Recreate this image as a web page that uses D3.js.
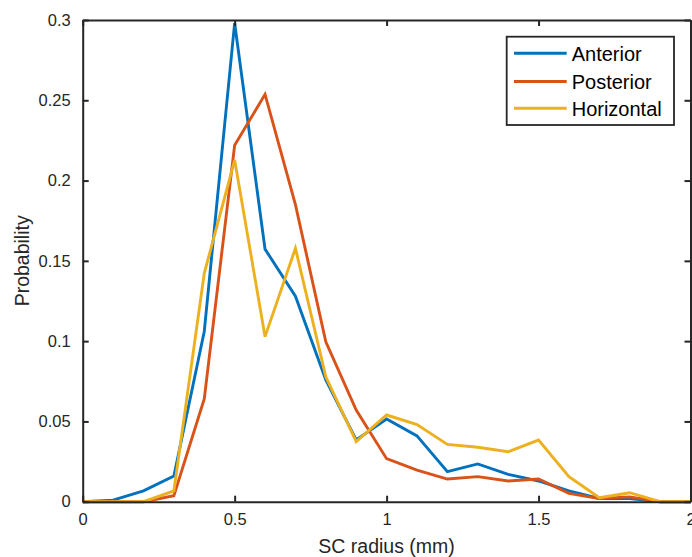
<!DOCTYPE html>
<html>
<head>
<meta charset="utf-8">
<script src="https://cdn.jsdelivr.net/npm/d3@7"></script>
<style>
  html, body { margin: 0; padding: 0; background: #fff; }
  svg { display: block; font-family: "Liberation Sans", Arial, Helvetica, sans-serif; }
</style>
</head>
<body>
<svg id="chart" width="692" height="557"></svg>
<script>
const radius = [0, 0.1, 0.2, 0.3, 0.4, 0.5, 0.6, 0.7, 0.8, 0.9, 1.0, 1.1, 1.2, 1.3, 1.4, 1.5, 1.6, 1.7, 1.8, 1.9, 2.0];
const anterior   = [0, 0.001, 0.0068, 0.016, 0.106, 0.298, 0.1573, 0.128, 0.0758, 0.0385, 0.0515, 0.041, 0.0187, 0.0235, 0.017, 0.0129, 0.0067, 0.002, 0.002, 0, 0];
const posterior  = [0, 0, 0, 0.0037, 0.064, 0.222, 0.2537, 0.185, 0.0996, 0.0571, 0.0268, 0.0197, 0.0141, 0.0156, 0.0129, 0.0141, 0.0052, 0.002, 0.003, 0, 0];
const horizontal = [0, 0, 0, 0.0067, 0.1422, 0.2128, 0.1028, 0.1578, 0.0778, 0.0374, 0.054, 0.048, 0.0357, 0.0339, 0.0311, 0.0384, 0.0156, 0.0025, 0.0056, 0, 0];
const seriesNames = ["Anterior", "Posterior", "Horizontal"];
const seriesColors = ["#0072BD", "#D95319", "#EDB120"];
const xTicks = [0, 0.5, 1, 1.5, 2];
const xTickLabels = ["0", "0.5", "1", "1.5", "2"];
const yTicks = [0, 0.05, 0.1, 0.15, 0.2, 0.25, 0.3];
const yTickLabels = ["0", "0.05", "0.1", "0.15", "0.2", "0.25", "0.3"];
const xLabel = "SC radius (mm)";
const yLabel = "Probability";

const svg = d3.select("#chart");
const L = 82.7, R = 690.5, T = 20, B = 501.7;
const x = d3.scaleLinear().domain([0, 2]).range([L, R]);
const y = d3.scaleLinear().domain([0, 0.3]).range([B, T]);
const axisColor = "#262626";

const series = [anterior, posterior, horizontal];
const line = d3.line().x((d, i) => x(radius[i])).y(d => y(d));

const plot = svg.append("g");
series.forEach((s, k) => {
  plot.append("path")
    .datum(s)
    .attr("fill", "none")
    .attr("stroke", seriesColors[k])
    .attr("stroke-width", 2.9)
    .attr("stroke-linejoin", "miter")
    .attr("d", line);
});

function styleAxis(g) {
  g.select(".domain").attr("stroke", axisColor).attr("stroke-width", 2);
  g.selectAll(".tick line").attr("stroke", axisColor).attr("stroke-width", 2);
  g.selectAll(".tick text").attr("fill", axisColor).attr("font-size", 16.5)
    .attr("font-family", "Liberation Sans, Arial, sans-serif");
}

// bottom
const xAxis = d3.axisBottom(x).tickValues(xTicks).tickFormat((d, i) => xTickLabels[i])
  .tickSizeInner(-6).tickSizeOuter(0).tickPadding(12);
svg.append("g").attr("transform", `translate(0,${B})`).call(xAxis).call(styleAxis);
// top
const xAxisTop = d3.axisTop(x).tickValues(xTicks).tickFormat("")
  .tickSizeInner(-6).tickSizeOuter(0);
svg.append("g").attr("transform", `translate(0,${T})`).call(xAxisTop).call(styleAxis);
// left
const yAxis = d3.axisLeft(y).tickValues(yTicks).tickFormat((d, i) => yTickLabels[i])
  .tickSizeInner(-6).tickSizeOuter(0).tickPadding(12);
svg.append("g").attr("transform", `translate(${L},0)`).call(yAxis).call(styleAxis);
// right
const yAxisRight = d3.axisRight(y).tickValues(yTicks).tickFormat("")
  .tickSizeInner(-6).tickSizeOuter(0);
svg.append("g").attr("transform", `translate(${R},0)`).call(yAxisRight).call(styleAxis);

// axis labels
svg.append("text")
  .attr("x", x(1)).attr("y", 553)
  .attr("text-anchor", "middle")
  .attr("font-size", 19.5)
  .attr("fill", axisColor)
  .text(xLabel);
svg.append("text")
  .attr("transform", `translate(29,${(T + B) / 2}) rotate(-90)`)
  .attr("text-anchor", "middle")
  .attr("font-size", 19.5)
  .attr("fill", axisColor)
  .text(yLabel);

// legend
const lg = svg.append("g");
lg.append("rect")
  .attr("x", 506.7).attr("y", 36.7).attr("width", 167.3).attr("height", 88.3)
  .attr("fill", "#fff").attr("stroke", axisColor).attr("stroke-width", 1.8);
const rowY = [53.3, 81.5, 108.3];
seriesNames.forEach((name, k) => {
  lg.append("line")
    .attr("x1", 514).attr("x2", 566.7)
    .attr("y1", rowY[k]).attr("y2", rowY[k])
    .attr("stroke", seriesColors[k]).attr("stroke-width", 2.9);
  lg.append("text")
    .attr("x", 571.7).attr("y", rowY[k]).attr("dy", "0.36em")
    .attr("font-size", 20)
    .attr("fill", "#000")
    .text(name);
});
</script>
</body>
</html>
